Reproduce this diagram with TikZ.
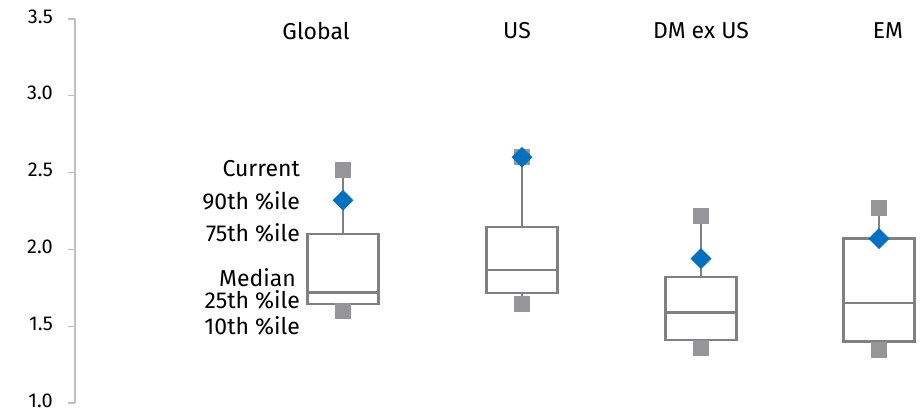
\documentclass[tikz,border=0pt]{standalone}
\usepackage{fontspec}
\setmainfont{Fira Sans}
\usetikzlibrary{shapes.geometric,backgrounds,positioning}
\definecolor{boxgray}{RGB}{128,128,128}
\definecolor{markgray}{RGB}{150,150,154}
\definecolor{axisgray}{RGB}{190,190,195}
\definecolor{diamblue}{RGB}{0,112,192}
\tikzstyle{pctbox} = [draw=boxgray, line width=2.3pt, fill=white, rectangle,
    minimum width=71pt, inner sep=0pt]
\tikzstyle{sqmark} = [fill=markgray, rectangle, minimum size=16pt, inner sep=0pt]
\tikzstyle{curmark} = [fill=diamblue, diamond, minimum size=21pt, inner sep=0pt]
\tikzstyle{whisker} = [draw=boxgray, line width=2.3pt]
\tikzstyle{axisline} = [draw=axisgray, line width=1.3pt]
\tikzstyle{lbl} = [font=\fontsize{20}{20}\selectfont, inner sep=0pt]
\tikzstyle{biglbl} = [font=\fontsize{23}{23}\selectfont, inner sep=0pt]

\begin{document}
\begin{tikzpicture}[x=1pt, y=153.6pt]
    \useasboundingbox (0,0.9414) rectangle (924,3.6237);

    % axis
    \coordinate (ytop) at (75,3.5);
    \coordinate (ybot) at (75,1.0);
    \draw [axisline] (ytop) -- (ybot);
    \foreach \v [count=\i] in {1.0,1.5,2.0,2.5,3.0,3.5} {
        \draw [axisline] (68,\v) -- (75,\v);
        \node [lbl, anchor=east, yshift=2.5pt] (tick\i) at (53,\v) {\v};
    }

    % headers
    \node [biglbl] (hglobal) at (316,3.422) {Global};
    \node [biglbl] (hus) at (517,3.422) {US};
    \node [biglbl] (hdm) at (701,3.422) {DM ex US};
    \node [biglbl] (hem) at (888,3.422) {EM};

    % legend
    \node [biglbl, anchor=east] (lcur) at (300,2.523) {Current};
    \node [biglbl, anchor=east] (l90) at (300,2.315) {90th \%ile};
    \node [biglbl, anchor=east] (l75) at (300,2.107) {75th \%ile};
    \node [biglbl, anchor=east] (lmed) at (296,1.814) {Median};
    \node [biglbl, anchor=east] (l25) at (300,1.671) {25th \%ile};
    \node [biglbl, anchor=east] (l10) at (300,1.501) {10th \%ile};

    % Global
    \node [pctbox, minimum height={(2.10-1.645)*153.6pt}] (gbox) at (343,{(2.10+1.645)/2}) {};
    \coordinate (gmed) at (343,1.72);
    \draw [whisker] (gbox.west |- gmed) -- (gbox.east |- gmed);
    \node [sqmark] (gtop) at (343,2.52) {};
    \node [sqmark] (glow) at (343,1.60) {};
    \node [curmark] (gcur) at (343,2.32) {};

    % US
    \node [pctbox, minimum height={(2.146-1.716)*153.6pt}] (ubox) at (522,{(2.146+1.716)/2}) {};
    \coordinate (umed) at (522,1.866);
    \draw [whisker] (ubox.west |- umed) -- (ubox.east |- umed);
    \node [sqmark] (utop) at (522,2.60) {};
    \node [sqmark] (ulow) at (522,1.645) {};
    \node [curmark] (ucur) at (522,2.60) {};

    % DM ex US
    \node [pctbox, minimum height={(1.82-1.41)*153.6pt}] (dbox) at (701,{(1.82+1.41)/2}) {};
    \coordinate (dmed) at (701,1.59);
    \draw [whisker] (dbox.west |- dmed) -- (dbox.east |- dmed);
    \node [sqmark] (dtop) at (701,2.22) {};
    \node [sqmark] (dlow) at (701,1.36) {};
    \node [curmark] (dcur) at (701,1.94) {};

    % EM
    \node [pctbox, minimum height={(2.07-1.40)*153.6pt}] (ebox) at (879,{(2.07+1.40)/2}) {};
    \coordinate (emed) at (879,1.65);
    \draw [whisker] (ebox.west |- emed) -- (ebox.east |- emed);
    \node [sqmark] (etop) at (879,2.27) {};
    \node [sqmark] (elow) at (879,1.345) {};
    \node [curmark] (ecur) at (879,2.07) {};

    % whiskers
    \begin{pgfonlayer}{background}
        \draw [whisker] (gtop.center) -- (gbox.north);
        \draw [whisker] (gbox.south) -- (glow.center);
        \draw [whisker] (utop.center) -- (ubox.north);
        \draw [whisker] (ubox.south) -- (ulow.center);
        \draw [whisker] (dtop.center) -- (dbox.north);
        \draw [whisker] (dbox.south) -- (dlow.center);
        \draw [whisker] (etop.center) -- (ebox.north);
        \draw [whisker] (ebox.south) -- (elow.center);
    \end{pgfonlayer}
\end{tikzpicture}
\end{document}
